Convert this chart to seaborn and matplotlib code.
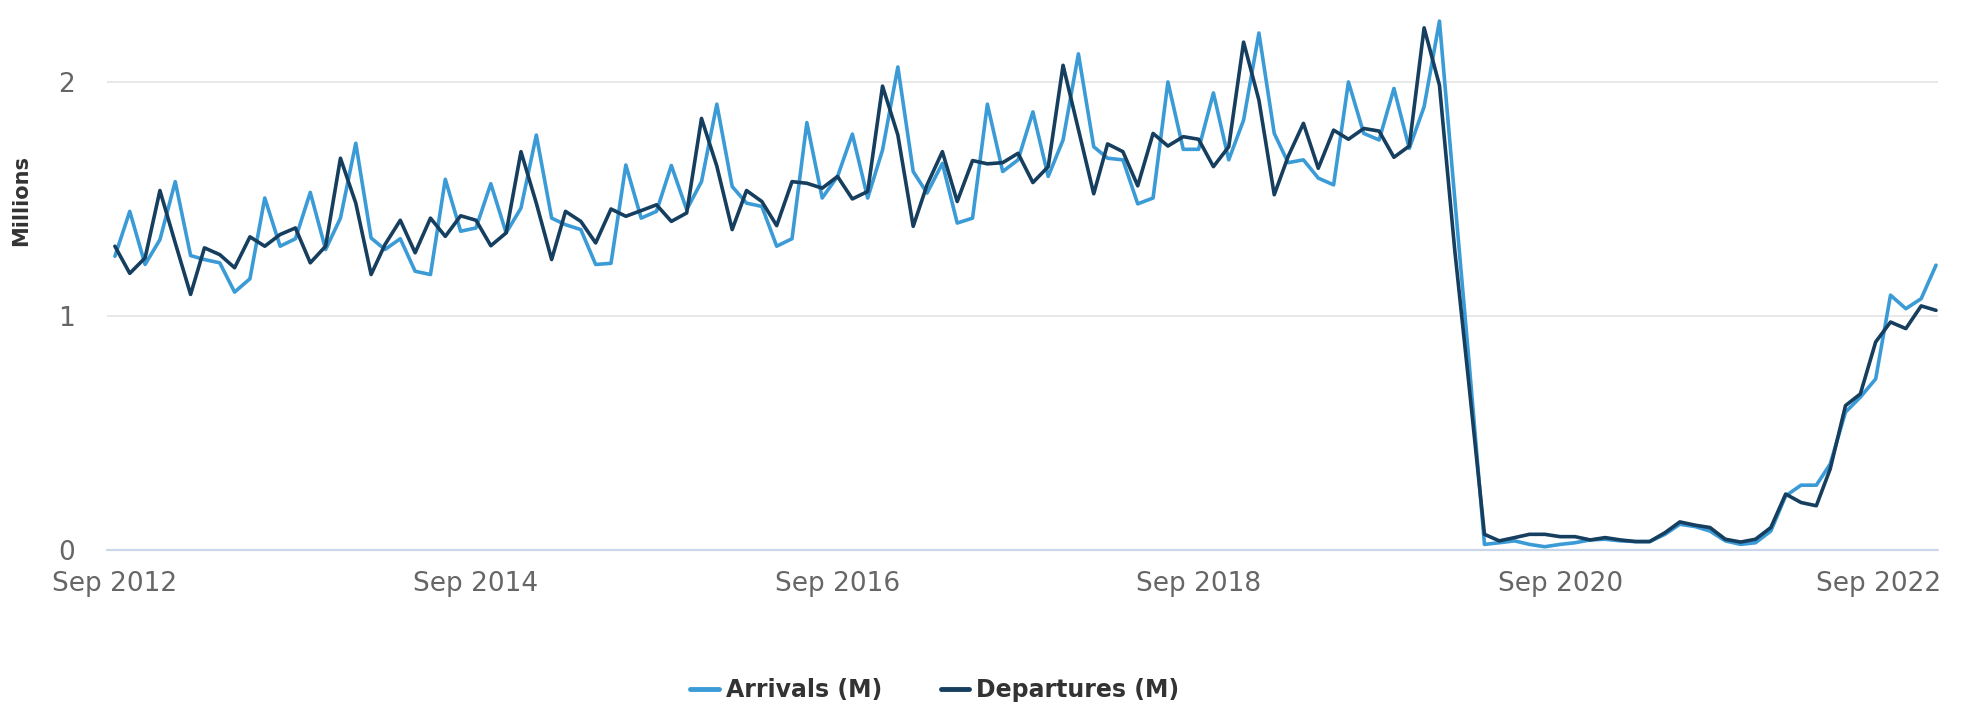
import numpy as np
import pandas as pd
import matplotlib
matplotlib.use("Agg")
import matplotlib.pyplot as plt
import matplotlib.dates as mdates
from matplotlib.transforms import ScaledTranslation
import seaborn as sns

# monthly values, Sep 2012 .. Oct 2022 (millions)
months = pd.date_range("2012-09-01", periods=122, freq="MS")

arrivals = [
    1.255, 1.447, 1.220, 1.326, 1.574, 1.258, 1.241, 1.227, 1.102, 1.159, 1.504, 1.298,
    1.330, 1.528, 1.284, 1.418, 1.738, 1.333, 1.284, 1.330, 1.191, 1.177, 1.584, 1.362,
    1.376, 1.565, 1.355, 1.461, 1.773, 1.418, 1.390, 1.369, 1.220, 1.225, 1.645, 1.418,
    1.447, 1.643, 1.454, 1.574, 1.905, 1.553, 1.482, 1.468, 1.298, 1.330, 1.826, 1.504,
    1.596, 1.777, 1.504, 1.709, 2.064, 1.617, 1.525, 1.652, 1.397, 1.418, 1.905, 1.617,
    1.667, 1.872, 1.596, 1.752, 2.120, 1.723, 1.674, 1.667, 1.479, 1.504, 2.000, 1.712,
    1.712, 1.953, 1.667, 1.837, 2.209, 1.780, 1.655, 1.667, 1.589, 1.560, 2.000, 1.780,
    1.752, 1.972, 1.716, 1.894, 2.260, 1.500, 0.800, 0.024, 0.031, 0.039, 0.024, 0.014,
    0.024, 0.031, 0.043, 0.046, 0.039, 0.036, 0.036, 0.067, 0.110, 0.100, 0.081, 0.039,
    0.024, 0.031, 0.081, 0.231, 0.277, 0.277, 0.367, 0.589, 0.653, 0.731, 1.089, 1.031,
    1.074, 1.217,
]

departures = [
    1.298, 1.182, 1.248, 1.536, 1.312, 1.092, 1.291, 1.262, 1.206, 1.338, 1.298, 1.348,
    1.376, 1.227, 1.298, 1.674, 1.482, 1.177, 1.305, 1.409, 1.270, 1.418, 1.340, 1.428,
    1.409, 1.300, 1.355, 1.702, 1.482, 1.241, 1.447, 1.404, 1.312, 1.457, 1.426, 1.450,
    1.475, 1.404, 1.440, 1.844, 1.640, 1.369, 1.536, 1.489, 1.386, 1.574, 1.567, 1.546,
    1.596, 1.500, 1.532, 1.982, 1.773, 1.383, 1.560, 1.702, 1.489, 1.664, 1.650, 1.655,
    1.695, 1.570, 1.638, 2.071, 1.797, 1.522, 1.735, 1.702, 1.556, 1.780, 1.726, 1.766,
    1.755, 1.638, 1.723, 2.170, 1.922, 1.518, 1.681, 1.823, 1.631, 1.794, 1.755, 1.801,
    1.790, 1.678, 1.726, 2.231, 1.986, 1.280, 0.700, 0.067, 0.039, 0.053, 0.067, 0.067,
    0.057, 0.057, 0.043, 0.053, 0.043, 0.036, 0.036, 0.074, 0.120, 0.106, 0.096, 0.046,
    0.034, 0.046, 0.096, 0.239, 0.203, 0.189, 0.346, 0.617, 0.667, 0.889, 0.974, 0.946,
    1.043, 1.024,
]

series_names = ["Arrivals (M)", "Departures (M)"]
colors = ["#3b9bd6", "#163e5e"]
tick_dates = pd.to_datetime(["2012-09-01", "2014-09-01", "2016-09-01",
                             "2018-09-01", "2020-09-01", "2022-09-01"])
y_ticks = [0, 1, 2]

df = pd.DataFrame({"month": months,
                   series_names[0]: arrivals,
                   series_names[1]: departures})
df = df.melt(id_vars="month", var_name="series", value_name="millions")

sns.set_theme(style="white")
plt.rcParams["font.family"] = ["DejaVu Sans"]

W, H = 1966, 704
fig = plt.figure(figsize=(W / 100, H / 100), dpi=100)
ax = fig.add_axes([107 / W, 154 / H, (1938 - 107) / W, 550 / H])

sns.lineplot(data=df, x="month", y="millions", hue="series",
             hue_order=series_names, palette=dict(zip(series_names, colors)),
             linewidth=2.6, legend=False, ax=ax)

ax.set_ylim(0, 2.35)
ax.set_xlim(pd.Timestamp("2012-08-16"), pd.Timestamp("2022-10-05"))

for s in ax.spines.values():
    s.set_visible(False)
ax.set_yticks(y_ticks)
ax.yaxis.grid(True, color="#e6e6e6", linewidth=1.3)
ax.xaxis.grid(False)
ax.axhline(0, color="#ccd6eb", linewidth=1.6, clip_on=False, zorder=1)

ax.set_xticks(tick_dates)
ax.xaxis.set_major_formatter(mdates.DateFormatter("%b %Y"))
ax.tick_params(axis="x", length=0, pad=15, labelsize=19, labelcolor="#666666")
ax.tick_params(axis="y", length=0, pad=23, labelsize=19, labelcolor="#666666")
ax.set_xlabel("")
ax.set_ylabel("")

# last label kept inside the chart like the original
last = ax.get_xticklabels()[-1]
last.set_horizontalalignment("right")
last.set_transform(last.get_transform() + ScaledTranslation(0.2, 0, fig.dpi_scale_trans))

fig.text(21 / W, 1 - 201 / H, "Millions", rotation=90, ha="center", va="center",
         fontsize=15, fontweight="bold", color="#333333")

handles = ax.get_lines()[:2]
fig.legend(handles, series_names, loc="center", bbox_to_anchor=(935 / W, 1 - 690 / H),
           ncol=2, frameon=False, handlelength=1.2, handletextpad=0.3,
           columnspacing=2.5, prop={"weight": "bold", "size": 17})
for t in fig.legends[0].get_texts():
    t.set_color("#333333")
for l in fig.legends[0].get_lines():
    l.set_linewidth(3.5)

fig.savefig("out.png", dpi=100, facecolor="white")
